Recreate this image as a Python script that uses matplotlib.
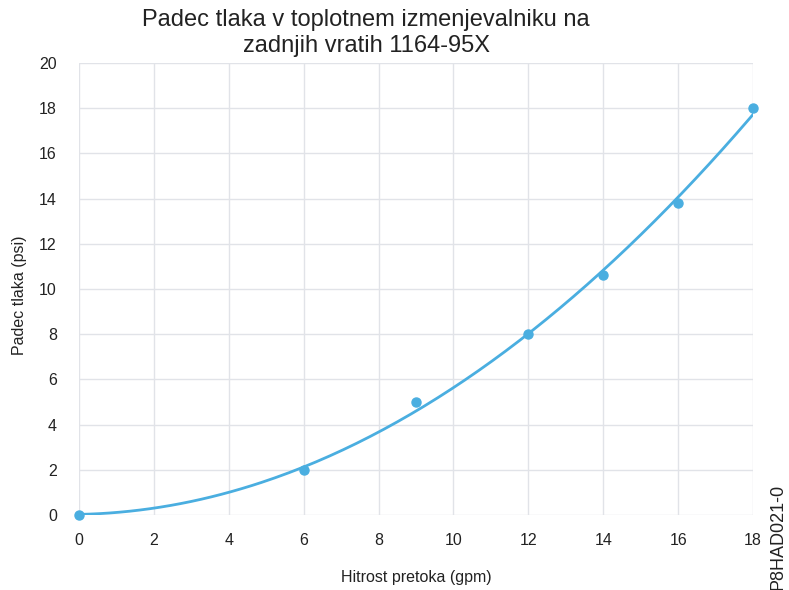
import numpy as np
import matplotlib
matplotlib.use("Agg")
import matplotlib.pyplot as plt

# flow rate (gpm) vs pressure drop (psi)
flow = [0, 6, 9, 12, 14, 16, 18]
pressure = [0, 2.0, 5.0, 8.0, 10.6, 13.8, 18.0]

x_ticks = [0, 2, 4, 6, 8, 10, 12, 14, 16, 18]
y_ticks = [0, 2, 4, 6, 8, 10, 12, 14, 16, 18, 20]

plt.rcParams['font.family'] = ['Liberation Sans', 'DejaVu Sans']
COLOR = '#4aaee0'
TXT = '#222222'

fig = plt.figure(figsize=(7.89, 5.9), dpi=100)
ax = fig.add_axes([0.1001, 0.1271, 0.8543, 0.7661])

# polynomial trendline (order 2) like the spreadsheet chart
coef = np.polyfit(flow, pressure, 2)
xs = np.linspace(0, 18, 200)
ax.plot(xs, np.polyval(coef, xs), color=COLOR, lw=2, zorder=3)
ax.plot(flow, pressure, 'o', color=COLOR, ms=6.5, zorder=4, clip_on=False)

ax.set_xlim(0, 18)
ax.set_ylim(0, 20)
ax.set_xticks(x_ticks)
ax.set_yticks(y_ticks)
ax.grid(True, color='#e1e3e8', lw=1)
ax.set_axisbelow(True)
for s in ax.spines.values():
    s.set_visible(False)
ax.tick_params(length=0, labelsize=11.5, colors=TXT)
ax.tick_params(axis='x', pad=13)
ax.tick_params(axis='y', pad=16)

ax.set_xlabel('Hitrost pretoka (gpm)', fontsize=11.5, color=TXT, labelpad=16)
fig.text(0.025, 0.5, 'Padec tlaka (psi)', rotation=90, ha='center', va='center',
         fontsize=11.5, color=TXT)

fig.text(0.464, 0.985, 'Padec tlaka v toplotnem izmenjevalniku na\nzadnjih vratih 1164-95X',
         ha='center', va='top', fontsize=17, color=TXT, linespacing=1.25)
fig.text(0.986, 0.0, 'P8HAD021-0', rotation=90, ha='center', va='bottom',
         fontsize=13, color=TXT)

fig.savefig('out.png', dpi=100)
